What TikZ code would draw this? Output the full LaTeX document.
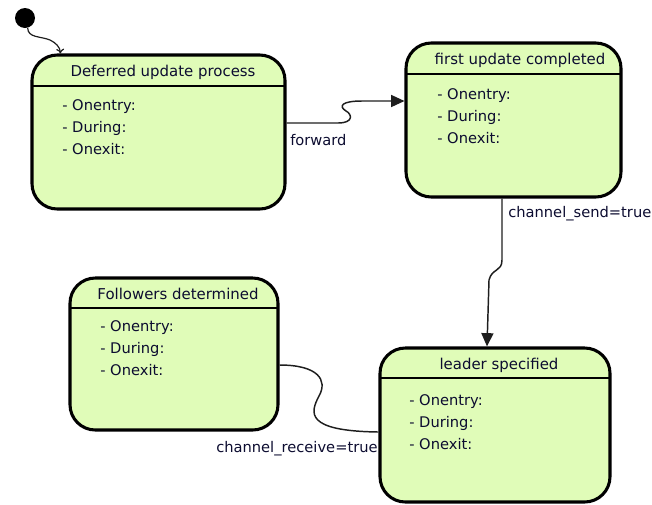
\documentclass[tikz,border=0pt]{standalone}
\usepackage{fontspec}
\setmainfont{DejaVu Sans}
\usetikzlibrary{arrows.meta,calc,fit}
\definecolor{statefill}{RGB}{224,252,184}
\definecolor{labelink}{RGB}{12,12,48}
\definecolor{wire}{RGB}{30,30,30}
\tikzset{
  state/.style={draw=black, line width=2.3pt, fill=statefill, rounded corners=19pt, inner sep=0pt},
  divider/.style={draw=black, line width=2pt},
  title/.style={font=\fontsize{11.2}{13}\selectfont, text=labelink, inner sep=0pt},
  actions/.style={font=\fontsize{11}{16.5}\selectfont, text=labelink, align=left, anchor=north west, inner sep=0pt},
  guard/.style={font=\fontsize{11}{13}\selectfont, text=labelink, anchor=west, inner sep=0pt},
  wire/.style={draw=wire, line width=1.1pt},
  flow/.style={wire, -{Triangle[length=10pt,width=9pt]}},
}
\begin{document}
\begin{tikzpicture}[x=0.75pt,y=-0.75pt]
\useasboundingbox (0,0) rectangle (652,504);

% initial pseudo-state
\node[circle, fill=black, minimum size=15pt, inner sep=0pt] (init) at (25,18) {};

% states
\node[state, fit={(32,55) (285,209)}] (s1) {};
\draw[divider] (32,86) -- (285,86);
\node[title] (s1t) at (163,72) {Deferred update process};
\node[actions] (s1a) at (62,99) {- Onentry:\\- During:\\- Onexit:};

\node[state, fit={(406,43) (621,197)}] (s2) {};
\draw[divider] (406,74) -- (621,74);
\node[title] (s2t) at (520,60) {first update completed};
\node[actions] (s2a) at (437,88) {- Onentry:\\- During:\\- Onexit:};

\node[state, fit={(70,278) (278,430)}] (s3) {};
\draw[divider] (70,308) -- (278,308);
\node[title] (s3t) at (178,294) {Followers determined};
\node[actions] (s3a) at (100,320) {- Onentry:\\- During:\\- Onexit:};

\node[state, fit={(380,348) (610,502)}] (s4) {};
\draw[divider] (380,378) -- (610,378);
\node[title] (s4t) at (499,365) {leader specified};
\node[actions] (s4a) at (409,394) {- Onentry:\\- During:\\- Onexit:};

% transitions
\draw[wire, line width=0.9pt, -{To[length=3.5pt,width=6pt]}]
  (init.-75) .. controls (28,38) and (40,36) .. (50,40)
  .. controls (56,43) and (60,47) .. ($(s1.north west)+(30,0)$);

\draw[flow] ($(s1.east)+(0,-9)$) -- (338,123)
  .. controls (354,123) and (352,114) .. (346,111)
  .. controls (338,106) and (342,101) .. (362,101)
  -- ($(s2.west)+(0,-19)$);

\draw[flow] ($(s2.south)+(-11.5,0)$) -- (502,260)
  .. controls (502,272) and (492,268) .. (489,280)
  -- ($(s4.north)+(-8,0)$);

\draw[wire] ($(s3.east)+(0,11)$)
  .. controls (318,365) and (328,380) .. (319,396)
  .. controls (310,413) and (305,431) .. ($(s4.west)+(0,7)$);

% guards
\node[guard] (g1) at (290,140) {forward};
\node[guard] (g2) at (508,214) {channel\_send=true};
\node[guard] (g3) at (216,449) {channel\_receive=true};
\end{tikzpicture}
\end{document}
